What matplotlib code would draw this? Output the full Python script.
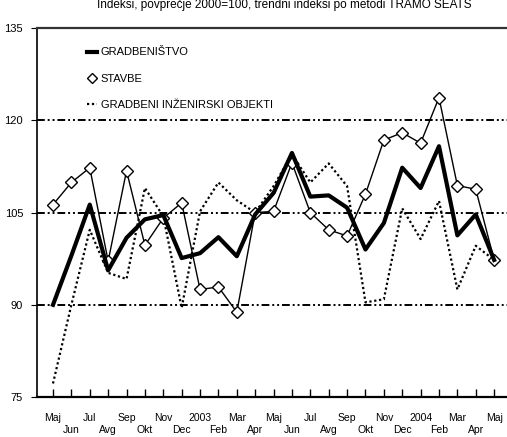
import matplotlib
matplotlib.use("Agg")
import matplotlib.pyplot as plt
from matplotlib.lines import Line2D
import numpy as np

plt.rcParams['font.family'] = ['Liberation Sans Narrow', 'Liberation Sans', 'DejaVu Sans']

months = ['Maj', 'Jun', 'Jul', 'Avg', 'Sep', 'Okt', 'Nov', 'Dec', '2003', 'Feb', 'Mar', 'Apr',
          'Maj', 'Jun', 'Jul', 'Avg', 'Sep', 'Okt', 'Nov', 'Dec', '2004', 'Feb', 'Mar', 'Apr', 'Maj']

gradbenistvo = [90.0, 98.0, 106.3, 95.6, 100.9, 103.9, 104.6, 97.6, 98.4, 101.0, 97.9, 104.7,
                108.2, 114.7, 107.6, 107.8, 105.8, 99.0, 103.3, 112.3, 109.0, 115.8, 101.3, 104.7, 97.3]
stavbe = [106.3, 109.9, 112.3, 97.1, 111.8, 99.7, 104.1, 106.6, 92.5, 92.9, 88.8, 105.0,
          105.2, 113.1, 105.0, 102.2, 101.2, 108.0, 116.8, 118.0, 116.3, 123.7, 109.4, 108.8, 97.3]
inzenirski = [77.2, 90.0, 102.2, 95.2, 94.2, 109.0, 104.4, 89.5, 105.2, 109.9, 107.0, 105.0,
              109.3, 114.5, 109.9, 113.0, 109.3, 90.4, 90.9, 105.7, 100.7, 106.9, 92.5, 99.6, 97.3]

naslov = "Indeksi, povprečje 2000=100, trendni indeksi po metodi TRAMO SEATS"

fig = plt.figure(figsize=(5.07, 4.37), dpi=100)
ax = fig.add_axes([0.073, 0.0915, 0.927, 0.844])

x = np.arange(len(months))

# mreža
for v in [90, 105, 120]:
    ax.axhline(v, color='black', lw=1.4, dashes=[4, 1.5, 1, 1.5, 1, 1.5], zorder=1)

ax.plot(x, inzenirski, color='black', lw=1.6, ls=(0, (1, 1.2)), zorder=2)
ax.plot(x, stavbe, color='black', lw=1.0, marker='D', markersize=6.5, markerfacecolor='white',
        markeredgecolor='black', markeredgewidth=1.0, zorder=3)
ax.plot(x, gradbenistvo, color='black', lw=3.0, zorder=4)

ax.set_xlim(-0.87, 24.7)
ax.set_ylim(75, 135)
ax.set_yticks([75, 90, 105, 120, 135])
ax.tick_params(axis='y', direction='out', length=4, labelsize=8, pad=6)
ax.set_xticks(x)
ax.set_xticklabels([])
ax.tick_params(axis='x', direction='in', length=6, width=1)

for i, m in enumerate(months):
    yy = -0.057 if i % 2 == 0 else -0.089
    ax.text(i, yy, m, transform=ax.get_xaxis_transform(), ha='center', va='center', fontsize=7.5)

ax.spines['right'].set_visible(False)
ax.spines['top'].set_linewidth(1.6)
ax.spines['top'].set_color('#333333')
ax.spines['left'].set_linewidth(1.2)
ax.spines['bottom'].set_linewidth(1.6)

# legenda
h1 = Line2D([], [], color='black', lw=3.0)
h2 = Line2D([], [], ls='none', marker='D', markersize=5.5, markerfacecolor='white',
            markeredgecolor='black', markeredgewidth=1.0)
h3 = Line2D([], [], color='black', lw=1.6, ls=(0, (1, 1.2)))
ax.legend([h1, h2, h3], ['GRADBENIŠTVO', 'STAVBE', 'GRADBENI INŽENIRSKI OBJEKTI'],
          loc='upper left', bbox_to_anchor=(0.085, 0.975), frameon=False,
          fontsize=8, handlelength=0.9, handletextpad=0.35, labelspacing=1.45)

fig.text(0.56, 0.988, naslov, ha='center', va='center', fontsize=8.5)

plt.savefig('out.png', dpi=100)
